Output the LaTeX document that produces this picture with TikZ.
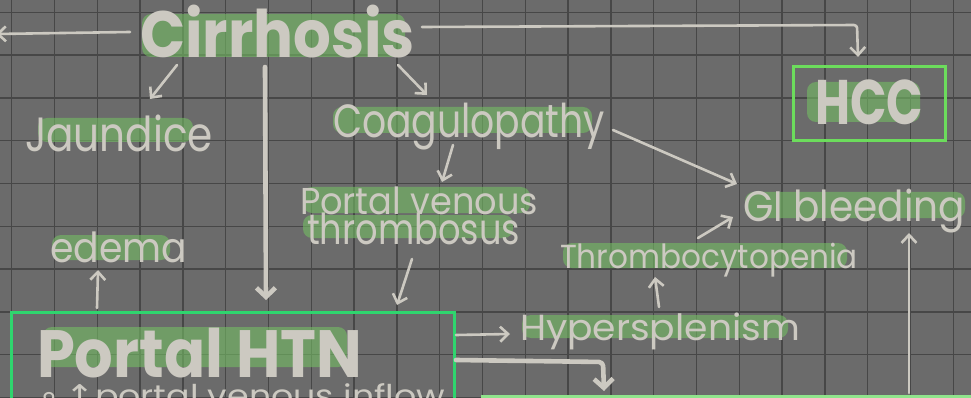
\documentclass[tikz,border=0pt]{standalone}
\usepackage{fontspec}
\setmainfont{Poppins}
\newfontfamily\symfont{DejaVu Sans}
\usetikzlibrary{arrows.meta}
\definecolor{bg}{HTML}{6B6B6B}
\definecolor{gridc}{HTML}{474747}
\definecolor{ink}{HTML}{CCC9C1}
\definecolor{hl}{HTML}{74BE64}
\definecolor{boxa}{HTML}{6CDC5C}
\definecolor{boxb}{HTML}{2FD56E}
\definecolor{boxc}{HTML}{90E48C}
\newcommand{\fitbox}[3]{\resizebox*{#1pt}{#2pt}{#3}}
\begin{document}
\begin{tikzpicture}[x=1pt,y=-1pt,
  lbl/.style={anchor=north west, inner sep=0pt, outer sep=0pt, text=ink},
  hilite/.style={fill=hl, fill opacity=0.6, rounded corners=9pt, draw=none},
  arr/.style={draw=ink, line width=2.6pt, line cap=round, line join=round, rounded corners=3pt,
    -{Straight Barb[length=8pt,width=15pt]}},
  thickarr/.style={draw=ink, line width=4.6pt, line cap=round, line join=round, rounded corners=4pt,
    -{Straight Barb[length=9pt,width=19pt]}},
  boxline/.style={line width=3pt}
]
\clip (0,0) rectangle (971,398);
\fill[bg] (0,0) rectangle (971,398);
\foreach \i in {0,...,22} { \draw[gridc, line width=1.5pt] ({11.7+42.8*\i},0) -- ++(0,398); }
\foreach \j in {0,...,9} { \draw[gridc, line width=1.5pt] (0,{12.3+42.8*\j}) -- ++(971,0); }

% highlights
\fill[hilite] (142,14) rectangle (405,57);
\fill[hilite] (38,118) rectangle (193,142);
\fill[hilite] (333,107) rectangle (592,133);
\fill[hilite] (303,187) rectangle (530,213);
\fill[hilite] (303,215) rectangle (513,238);
\fill[hilite] (52,235) rectangle (170,260);
\fill[hilite] (43,327) rectangle (347,367);
\fill[hilite] (807,82) rectangle (920,122);
\fill[hilite] (522,315) rectangle (788,338);
\fill[hilite] (563,243) rectangle (847,268);
\fill[hilite] (745,192) rectangle (965,218);

% boxes
\node[draw=boxa, boxline, inner sep=0pt, minimum width=152pt, minimum height=74pt] (hccbox) at (869,104) {};
\node[draw=boxb, boxline, inner sep=0pt, minimum width=443pt, minimum height=110pt] (htnbox) at (232.5,367) {};
\node[draw=boxc, boxline, inner sep=0pt, minimum width=520pt, minimum height=70pt] (botbox) at (742,431) {};

% labels
\node[lbl] (cir) at (140,5) {\fitbox{275}{53}{\bfseries Cirrhosis}};
\node[lbl] (hcc) at (815,80) {\fitbox{108}{45}{\bfseries HCC}};
\node[lbl] (jau) at (25,115) {\fitbox{188}{37}{Jaundice}};
\node[lbl] (coa) at (333,103) {\fitbox{272}{47}{Coagulopathy}};
\node[lbl] (pvt1) at (300,187) {\fitbox{238}{28}{Portal venous}};
\node[lbl] (pvt2) at (307,213) {\fitbox{213}{32}{thrombosus}};
\node[lbl] (ede) at (50,232) {\fitbox{137}{31}{edema}};
\node[lbl] (htn) at (37,328) {\fitbox{325}{50}{\bfseries Portal HTN}};
\node[anchor=base west, inner sep=0pt, text=ink] (inf) at (38,406)
  {\resizebox{407pt}{\height}{\fontsize{30}{30}\selectfont {\symfont ∘}\,{\symfont ↑}portal venous inflow}};
\node[lbl] (hyp) at (520,313) {\fitbox{280}{37}{Hypersplenism}};
\node[lbl] (thr) at (560,243) {\fitbox{298}{34}{Thrombocytopenia}};
\node[lbl] (gib) at (743,189) {\fitbox{222}{44}{GI bleeding}};

% connector end points
\coordinate (a1) at (130,32);  \coordinate (offl) at (-4,34);
\coordinate (b1) at (422,27);  \coordinate (b2) at (857,25); \coordinate (b3) at (858,57);
\coordinate (c1) at (177,65);  \coordinate (c2) at (150,99);
\coordinate (d1) at (398,65);  \coordinate (d2) at (427,95);
\coordinate (e1) at (265,67);  \coordinate (e2) at (266,300);
\coordinate (f1) at (453,145); \coordinate (f2) at (442,182);
\coordinate (g1) at (412,259); \coordinate (g2) at (397,305);
\coordinate (h1) at (97,308);  \coordinate (h2) at (98,270);
\coordinate (i1) at (456,335); \coordinate (i2) at (510,334);
\coordinate (j1) at (456,360); \coordinate (j2) at (603,362); \coordinate (j3) at (604,391);
\coordinate (l1) at (659,307); \coordinate (l2) at (655,277);
\coordinate (m1) at (698,238); \coordinate (m2) at (733,217);
\coordinate (n1) at (613,130); \coordinate (n2) at (737,184);
\coordinate (o1) at (909,393); \coordinate (o2) at (909,233);

\draw[arr] (a1) -- (offl);
\draw[arr] (b1) -- (b2) -- (b3);
\draw[arr] (c1) -- (c2);
\draw[arr] (d1) -- (d2);
\draw[thickarr] (e1) -- (e2);
\draw[arr] (f1) -- (f2);
\draw[arr] (g1) -- (g2);
\draw[arr] (h1) -- (h2);
\draw[arr] (i1) -- (i2);
\draw[thickarr] (j1) -- (j2) -- (j3);
\draw[arr] (l1) -- (l2);
\draw[arr] (m1) -- (m2);
\draw[arr] (n1) -- (n2);
\draw[arr] (o1) -- (o2);
\end{tikzpicture}
\end{document}
